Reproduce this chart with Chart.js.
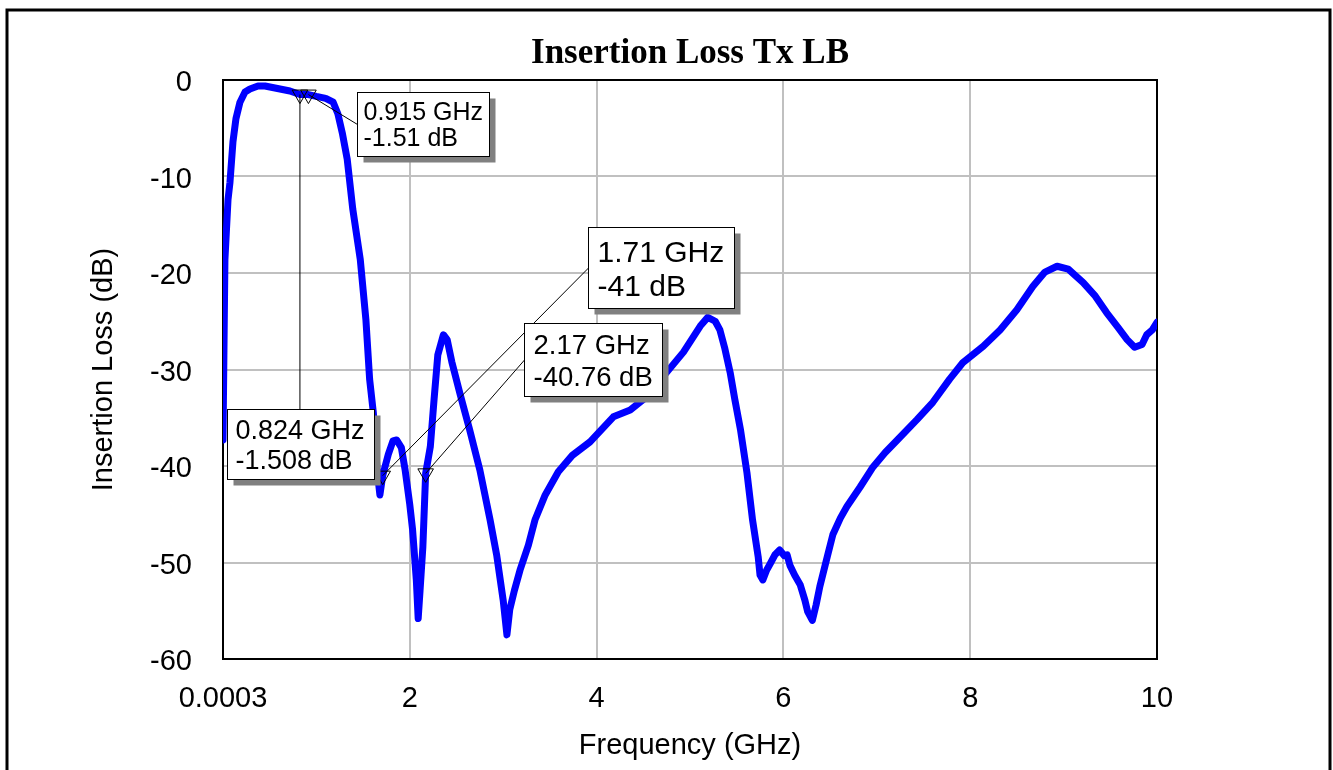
<!DOCTYPE html>
<html>
<head>
<meta charset="utf-8">
<script src="https://cdn.jsdelivr.net/npm/chart.js@4"></script>
<style>
  html, body { margin: 0; padding: 0; background: #ffffff; }
  #wrap { width: 1333px; height: 770px; position: relative; }
</style>
</head>
<body>
<div id="wrap"><canvas id="c" width="1333" height="770"></canvas></div>
<script>
// ---- data ----
const freqGHz = [0.0003,0.021,0.054,0.075,0.107,0.139,0.182,0.236,0.289,0.375,0.45,0.557,0.717,0.824,0.915,1.0,1.1,1.18,1.23,1.28,1.33,1.39,1.47,1.53,1.57,1.61,1.65,1.68,1.71,1.77,1.82,1.86,1.91,1.95,2.0,2.03,2.07,2.09,2.11,2.14,2.17,2.22,2.26,2.30,2.36,2.40,2.45,2.54,2.64,2.75,2.86,2.93,3.0,3.04,3.07,3.12,3.18,3.27,3.34,3.45,3.59,3.74,3.93,4.18,4.36,4.54,4.75,4.93,5.11,5.19,5.27,5.32,5.37,5.43,5.48,5.54,5.61,5.67,5.73,5.75,5.78,5.82,5.86,5.91,5.96,6.01,6.04,6.07,6.12,6.18,6.23,6.26,6.31,6.35,6.39,6.47,6.53,6.61,6.68,6.82,6.96,7.09,7.22,7.43,7.60,7.78,7.92,8.14,8.32,8.50,8.67,8.80,8.93,9.05,9.21,9.34,9.46,9.58,9.68,9.76,9.84,9.89,9.95,10.0];
const lossDb = [-37.3,-18.6,-12.4,-10.6,-6.4,-4.0,-2.3,-1.25,-0.93,-0.62,-0.62,-0.83,-1.14,-1.508,-1.51,-1.7,-1.9,-2.3,-3.5,-5.6,-8.2,-13.4,-18.6,-24.8,-31.0,-34.5,-40.4,-43.0,-41.0,-38.8,-37.4,-37.3,-38.1,-40.4,-44.0,-46.6,-51.8,-55.8,-52.9,-48.4,-40.76,-38.0,-33.1,-28.5,-26.4,-26.9,-29.2,-32.6,-36.2,-40.4,-45.6,-49.2,-53.9,-57.5,-54.9,-52.9,-50.8,-48.2,-45.6,-43.0,-40.6,-38.9,-37.5,-34.9,-34.2,-32.8,-30.3,-28.2,-25.5,-24.6,-25.0,-25.9,-27.7,-30.3,-33.1,-36.2,-40.7,-45.6,-49.4,-51.3,-51.8,-50.8,-50.1,-49.2,-48.7,-49.3,-49.2,-50.3,-51.3,-52.3,-53.9,-55.1,-56.0,-54.4,-52.5,-49.4,-47.1,-45.4,-44.2,-42.2,-40.1,-38.6,-37.3,-35.2,-33.4,-31.0,-29.3,-27.6,-25.9,-23.8,-21.4,-19.9,-19.3,-19.6,-21.0,-22.4,-24.1,-25.6,-26.9,-27.7,-27.4,-26.4,-25.9,-25.1];

const markerFreq = [0.824, 0.915, 1.71, 2.17];
const markerDb = [-1.508, -1.51, -41, -40.76];
const markerFreqText = ["0.824 GHz", "0.915 GHz", "1.71 GHz", "2.17 GHz"];
const markerDbText = ["-1.508 dB", "-1.51 dB", "-41 dB", "-40.76 dB"];

const xTickValues = [0.0003, 2, 4, 6, 8, 10];
const xTickLabels = ["0.0003", "2", "4", "6", "8", "10"];
const yTickValues = [0, -10, -20, -30, -40, -50, -60];
const yTickLabels = ["0", "-10", "-20", "-30", "-40", "-50", "-60"];

const titleText = "Insertion Loss Tx LB";
const xTitle = "Frequency (GHz)";
const yTitle = "Insertion Loss (dB)";

// ---- callout layout (box anchor in axis units, size in px) ----
const callouts = [
  { bx: 0.043, by: -34.09, w: 147, h: 70, font: 27, tx: 8, l1: 29, l2: 59, lead: "top" },
  { bx: 1.435, by: -1.24, w: 132, h: 64, font: 25, tx: 6, l1: 27, l2: 53, lead: "left" },
  { bx: 3.908, by: -15.23, w: 146, h: 81, font: 30, tx: 9, l1: 34, l2: 68, lead: "left" },
  { bx: 3.223, by: -25.18, w: 138, h: 73, font: 27.5, tx: 9, l1: 30, l2: 62, lead: "left" }
];

const SANS = "'Liberation Sans', Arial, sans-serif";

const framePlugin = {
  id: 'frame',
  beforeDraw(chart) {
    const ctx = chart.ctx;
    ctx.save();
    ctx.fillStyle = '#ffffff';
    ctx.fillRect(0, 0, chart.width, chart.height);
    ctx.strokeStyle = '#000000';
    ctx.lineWidth = 3;
    ctx.beginPath();
    ctx.moveTo(7, 770);
    ctx.lineTo(7, 10);
    ctx.lineTo(1330, 10);
    ctx.lineTo(1330, 770);
    ctx.stroke();
    ctx.restore();
  },
  afterDraw(chart) {
    const ctx = chart.ctx;
    const a = chart.chartArea;
    ctx.save();
    ctx.fillStyle = '#000000';
    ctx.font = "bold 35px 'Liberation Serif', 'Times New Roman', serif";
    ctx.textAlign = 'center';
    ctx.textBaseline = 'alphabetic';
    ctx.fillText(titleText, (a.left + a.right) / 2, 63);
    ctx.restore();
  },
  beforeDatasetsDraw(chart) {
    const ctx = chart.ctx;
    const a = chart.chartArea;
    ctx.save();
    ctx.strokeStyle = '#000000';
    ctx.lineWidth = 2;
    ctx.strokeRect(a.left, a.top, a.right - a.left, a.bottom - a.top);
    ctx.restore();
  },
  afterDatasetsDraw(chart) {
    const ctx = chart.ctx;
    const xs = chart.scales.x, ys = chart.scales.y;
    ctx.save();
    markerFreq.forEach((f, i) => {
      const c = callouts[i];
      const px = xs.getPixelForValue(f);
      const py = ys.getPixelForValue(markerDb[i]);
      const bx = Math.round(xs.getPixelForValue(c.bx)) + 0.5;
      const by = Math.round(ys.getPixelForValue(c.by)) + 0.5;
      ctx.strokeStyle = '#000000';
      ctx.lineWidth = 1;
      ctx.beginPath();
      if (c.lead === 'top') {
        ctx.moveTo(px, py);
        ctx.lineTo(px, by);
      } else {
        ctx.moveTo(px, py);
        ctx.lineTo(bx, by + c.h / 2);
      }
      ctx.stroke();
    });
    markerFreq.forEach((f, i) => {
      const c = callouts[i];
      const bx = Math.round(xs.getPixelForValue(c.bx)) + 0.5;
      const by = Math.round(ys.getPixelForValue(c.by)) + 0.5;
      ctx.fillStyle = '#808080';
      ctx.fillRect(bx + 6, by + 6, c.w, c.h);
      ctx.fillStyle = '#ffffff';
      ctx.fillRect(bx, by, c.w, c.h);
      ctx.strokeStyle = '#000000';
      ctx.lineWidth = 1;
      ctx.strokeRect(bx, by, c.w, c.h);
      ctx.fillStyle = '#000000';
      ctx.font = c.font + "px " + SANS;
      ctx.textAlign = 'left';
      ctx.textBaseline = 'alphabetic';
      ctx.fillText(markerFreqText[i], bx + c.tx, by + c.l1);
      ctx.fillText(markerDbText[i], bx + c.tx, by + c.l2);
    });
    ctx.restore();
  }
};

new Chart(document.getElementById('c'), {
  type: 'line',
  data: {
    datasets: [
      {
        label: 'S21',
        data: freqGHz.map((f, i) => ({ x: f, y: lossDb[i] })),
        borderColor: '#0000ff',
        borderWidth: 7,
        pointRadius: 0,
        tension: 0,
        borderJoinStyle: 'round',
        borderCapStyle: 'round',
        fill: false,
        order: 2
      },
      {
        label: 'Markers',
        data: markerFreq.map((f, i) => ({ x: f, y: markerDb[i] })),
        showLine: false,
        pointStyle: 'triangle',
        rotation: 180,
        pointRadius: 9,
        pointHoverRadius: 9,
        pointBorderColor: '#000000',
        pointBackgroundColor: 'rgba(0,0,0,0)',
        pointBorderWidth: 1,
        order: 1
      }
    ]
  },
  plugins: [framePlugin],
  options: {
    responsive: false,
    animation: false,
    events: [],
    layout: { padding: { left: 0, right: 176, top: 80, bottom: 0 } },
    plugins: { legend: { display: false }, title: { display: false }, tooltip: { enabled: false } },
    scales: {
      x: {
        type: 'linear',
        min: 0.0003,
        max: 10,
        afterBuildTicks(s) { s.ticks = xTickValues.map(v => ({ value: v })); },
        afterFit(s) { s.height = 111; },
        ticks: {
          autoSkip: false,
          maxRotation: 0,
          padding: 23,
          color: '#000000',
          font: { family: SANS, size: 29 },
          callback(v, i) { return xTickLabels[i]; }
        },
        grid: { color: '#c0c0c0', lineWidth: 2, drawTicks: false },
        border: { display: false },
        title: { display: true, text: xTitle, color: '#000000', font: { family: SANS, size: 29 }, padding: { top: 0, bottom: 7 } }
      },
      y: {
        type: 'linear',
        min: -60,
        max: 0,
        afterBuildTicks(s) { s.ticks = yTickValues.map(v => ({ value: v })); },
        afterFit(s) { s.width = 223; },
        ticks: {
          padding: 31,
          labelOffset: 3,
          color: '#000000',
          font: { family: SANS, size: 29 },
          callback(v, i) { return yTickLabels[i]; }
        },
        grid: { color: '#c0c0c0', lineWidth: 2, drawTicks: false },
        border: { display: false },
        title: { display: true, text: yTitle, color: '#000000', font: { family: SANS, size: 29 }, padding: { top: 87, bottom: 0 } }
      }
    }
  }
});
</script>
</body>
</html>
